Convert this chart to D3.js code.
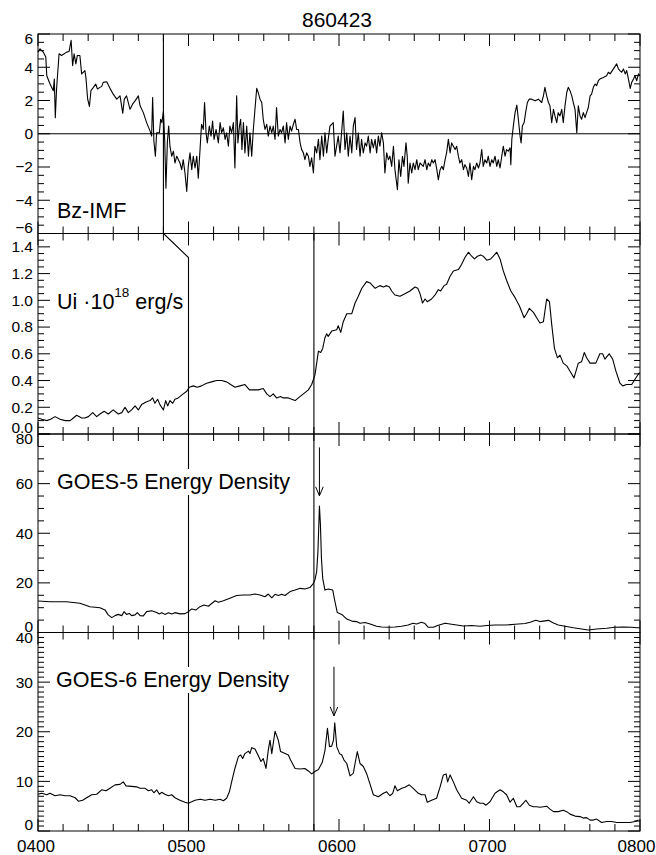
<!DOCTYPE html>
<html><head><meta charset="utf-8">
<script src="https://cdn.jsdelivr.net/npm/d3@7"></script>
<style>
body{margin:0;background:#fff}
svg{display:block}
text{font-family:"Liberation Sans",Arial,Helvetica,sans-serif;fill:#000}
</style>
</head><body>
<svg id="c" width="656" height="855"></svg>
<script>
// ---------------- DATA ----------------
const chartTitle = "860423";
const timeTickLabels = ["0400","0500","0600","0700","0800"];   // minutes after 0400: 0,60,120,180,240
const timeTickMinutes = [0,60,120,180,240];

const bzTicks = [-6,-4,-2,0,2,4,6];
const bzTickLabels = ["\u22126","\u22124","\u22122","0","2","4","6"];
const uiTicks = [0,0.2,0.4,0.6,0.8,1.0,1.2,1.4];
const uiTickLabels = ["0.0","0.2","0.4","0.6","0.8","1.0","1.2","1.4"];
const g5Ticks = [0,20,40,60,80];
const g5TickLabels = ["0","20","40","60","80"];
const g6Ticks = [0,10,20,30,40];
const g6TickLabels = ["0","10","20","30","40"];

// [minutes after 0400, value]
const bzIMF = [[0,4.91],[0.8,5.11],[2.1,4.91],[3.1,4.61],[3.5,3.49],[4.8,2.99],[6.1,2.59],[6.5,3.29],[6.9,0.97],[7.4,2.69],[8.4,4.81],[9.4,4.71],[11.4,4.91],[12.4,4.95],[13.2,5.62],[13.8,4.10],[14.4,4.81],[15.1,4.20],[15.7,4.71],[16.7,4.71],[17.4,3.60],[18.7,3.80],[19.1,3.39],[19.8,2.08],[20.5,1.64],[21.1,2.59],[22.1,2.79],[23.0,2.99],[23.7,2.69],[24.7,2.79],[25.4,2.85],[26.0,3.09],[27.4,3.13],[28.7,2.73],[30.0,2.38],[31.4,2.08],[32.7,2.28],[33.8,1.23],[34.4,2.08],[35.3,2.28],[36.7,1.47],[37.7,1.78],[38.7,1.98],[40.0,2.28],[40.7,1.68],[42.0,1.27],[43.3,0.67],[44.7,0.16],[45.3,-0.14],[45.7,2.18],[46.2,-0.44],[46.8,-1.35],[47.3,0.06],[48.4,0.06],[48.9,0.87],[49.4,0.67],[50.0,1.37],[50.5,-0.34],[51.0,-3.27],[51.6,-0.44],[52.1,0.46],[52.6,-0.75],[53.3,-1.35],[54.0,-1.05],[54.6,-1.76],[55.3,-1.35],[56.6,-1.76],[57.3,-2.16],[57.9,-1.56],[58.6,-2.36],[59.3,-3.47],[59.9,-1.96],[60.6,-1.15],[61.3,-2.16],[61.9,-1.35],[62.6,-2.06],[63.3,-1.35],[63.9,-2.67],[64.6,-0.95],[65.2,0.57],[65.9,0.26],[66.4,1.88],[67.0,0.06],[67.5,-0.55],[68.3,0.46],[69.0,-0.14],[69.6,0.77],[70.2,-0.34],[71.0,0.26],[71.9,-0.55],[72.6,0.67],[73.2,0.06],[73.9,0.36],[74.6,-0.34],[75.2,0.06],[75.9,-0.75],[76.5,0.46],[77.2,0.06],[77.9,0.67],[78.5,-2.06],[79.2,2.28],[79.7,-0.55],[80.3,0.46],[80.8,0.87],[81.3,-0.95],[81.9,0.67],[82.5,-1.15],[83.2,0.46],[83.9,-1.35],[84.5,0.06],[85.2,-1.35],[85.8,0.16],[86.5,1.47],[87.2,2.73],[87.8,2.48],[88.5,2.08],[89.2,1.88],[89.8,0.87],[90.5,0.26],[91.2,0.57],[91.8,-0.14],[92.5,0.46],[93.2,0.06],[93.8,0.46],[94.5,-0.34],[95.1,1.58],[95.8,-0.14],[96.5,0.26],[97.1,0.06],[97.8,0.46],[98.5,-0.55],[99.1,0.67],[99.8,-0.34],[100.5,0.46],[101.1,0.16],[101.8,0.57],[102.5,0.87],[103.1,0.26],[103.8,0.26],[104.5,-0.55],[105.1,-0.95],[105.8,-1.15],[106.4,-1.56],[107.1,-1.15],[107.8,-1.35],[108.4,-1.96],[109.1,-1.45],[109.8,-2.36],[110.4,-0.75],[111.1,-1.15],[111.8,-0.34],[112.4,-1.56],[113.1,-0.14],[113.8,-1.35],[114.4,0.06],[115.1,-1.15],[115.7,-0.34],[116.4,0.46],[117.7,0.67],[118.4,-1.35],[119.7,-0.14],[120.4,-1.15],[121.7,1.37],[122.4,-0.95],[123.1,0.06],[123.7,-1.35],[124.4,-0.14],[125.1,-1.15],[125.7,0.46],[126.4,0.97],[127.0,-0.95],[127.7,0.06],[128.4,-1.35],[129.0,-0.34],[129.7,-1.15],[130.4,-0.55],[131.0,-0.75],[131.7,-0.14],[132.4,-1.15],[133.0,-0.34],[133.7,-0.85],[134.4,-0.34],[135.0,-1.15],[135.7,-0.14],[136.3,-0.75],[137.0,0.06],[137.7,-0.55],[138.3,-2.36],[139.0,-1.15],[139.7,-1.56],[140.3,-1.35],[141.0,-1.96],[141.7,-0.75],[142.3,-2.16],[143.3,-3.37],[143.9,-1.56],[144.6,-2.57],[145.3,-1.35],[145.9,-1.96],[146.7,-0.55],[147.2,-1.35],[147.6,-2.97],[148.3,-1.76],[149.0,-2.36],[149.6,-1.76],[150.3,-2.16],[151.0,-1.56],[151.6,-2.16],[152.3,-1.76],[153.6,-1.96],[154.3,-1.56],[155.0,-2.16],[155.6,-1.76],[156.3,-1.96],[157.0,-1.56],[157.6,-1.76],[158.3,-1.56],[159.0,-2.16],[159.6,-2.77],[160.3,-2.16],[161.0,-1.96],[161.6,-2.16],[162.3,-1.56],[162.9,-1.15],[163.6,-0.34],[164.3,-1.15],[164.9,-0.55],[165.6,-0.75],[166.3,-0.95],[166.9,-0.75],[167.6,-1.35],[168.2,-1.76],[168.9,-1.56],[169.6,-2.16],[170.2,-1.86],[170.9,-2.06],[171.6,-2.57],[172.2,-1.76],[172.9,-2.77],[173.6,-1.96],[174.2,-2.16],[174.9,-1.76],[175.6,-2.06],[176.2,-1.76],[176.9,-0.95],[177.5,-1.96],[178.2,-1.56],[178.9,-1.76],[179.5,-1.35],[180.2,-1.96],[180.9,-1.56],[181.5,-1.76],[182.2,-1.35],[182.9,-1.96],[183.5,-1.56],[184.2,-2.06],[184.9,-1.35],[185.5,-0.75],[186.2,-1.35],[186.8,-0.95],[187.5,-1.05],[188.2,-0.85],[188.5,-1.86],[188.9,-0.34],[189.5,0.46],[190.2,1.27],[190.9,1.72],[191.5,0.87],[192.2,-0.14],[192.6,-0.55],[193.1,0.46],[193.8,0.67],[194.4,1.27],[195.1,1.88],[195.8,2.08],[196.8,2.08],[198.2,1.98],[199.5,2.08],[200.8,1.88],[201.5,2.28],[202.1,2.79],[202.8,2.28],[203.5,1.88],[204.1,1.68],[204.8,0.67],[205.5,1.47],[206.1,1.07],[206.8,0.67],[207.4,1.27],[208.1,1.07],[208.8,1.47],[209.4,0.67],[210.1,1.68],[210.8,2.48],[211.4,2.79],[212.1,2.59],[212.8,2.28],[213.4,1.88],[214.1,1.47],[214.8,0.06],[215.4,1.68],[216.1,1.07],[216.7,0.87],[217.4,1.27],[218.1,0.97],[218.7,1.27],[219.4,1.58],[220.1,2.28],[220.7,2.38],[221.4,2.79],[222.1,2.99],[222.7,2.89],[223.4,3.19],[224.0,3.29],[225.4,3.39],[226.7,3.49],[227.4,3.70],[228.1,3.60],[229.4,3.90],[230.7,4.20],[231.4,3.90],[232.0,3.80],[232.7,3.70],[233.4,3.90],[234.1,3.60],[234.7,3.80],[235.4,3.29],[236.1,2.73],[236.7,3.09],[237.4,3.29],[238.0,3.49],[238.7,3.19],[239.4,3.60],[240,3.49]];

const uiPower = [[0,0.12],[1.5,0.11],[3.5,0.10],[5.0,0.11],[6.8,0.13],[8.8,0.11],[10.8,0.10],[12.8,0.10],[14.1,0.12],[15.4,0.14],[17.4,0.12],[18.7,0.12],[20.1,0.13],[21.8,0.16],[23.4,0.13],[24.7,0.15],[26.4,0.17],[28.0,0.15],[30.0,0.18],[32.0,0.15],[33.4,0.16],[34.7,0.20],[36.0,0.16],[37.3,0.18],[38.7,0.21],[40.0,0.18],[41.3,0.22],[43.1,0.24],[44.7,0.25],[45.7,0.27],[46.6,0.23],[47.7,0.26],[48.6,0.22],[50.0,0.18],[50.9,0.25],[51.7,0.21],[52.6,0.25],[53.7,0.23],[54.6,0.26],[55.9,0.27],[57.9,0.30],[59.3,0.32],[60.3,0.35],[61.9,0.36],[63.5,0.35],[65.2,0.36],[67.2,0.38],[69.2,0.39],[71.2,0.40],[73.2,0.40],[75.2,0.39],[76.8,0.37],[78.5,0.35],[80.5,0.36],[82.5,0.37],[84.3,0.33],[85.8,0.33],[87.8,0.33],[89.8,0.34],[91.2,0.30],[92.5,0.28],[93.8,0.30],[95.1,0.27],[96.7,0.28],[97.8,0.27],[99.8,0.27],[102.5,0.25],[103.8,0.27],[105.8,0.30],[107.8,0.33],[109.1,0.37],[110.4,0.44],[111.1,0.53],[111.8,0.62],[112.7,0.61],[113.5,0.64],[114.4,0.72],[115.1,0.75],[115.7,0.73],[117.1,0.77],[119.1,0.78],[119.7,0.81],[120.7,0.76],[121.7,0.84],[123.1,0.90],[125.1,0.90],[126.4,0.98],[127.7,1.03],[129.1,1.09],[131.0,1.14],[132.4,1.13],[134.4,1.09],[136.3,1.11],[137.7,1.10],[139.0,1.11],[140.1,1.10],[141.0,1.07],[142.3,1.04],[144.3,1.03],[146.3,1.05],[148.3,1.07],[150.3,1.10],[151.4,1.09],[152.3,1.05],[153.3,0.98],[154.3,1.01],[155.2,0.99],[156.9,1.01],[158.3,1.04],[159.6,1.08],[160.5,1.07],[161.9,1.11],[162.9,1.12],[164.3,1.18],[165.6,1.22],[167.6,1.23],[168.9,1.27],[170.2,1.32],[171.6,1.36],[172.9,1.33],[174.0,1.31],[175.2,1.33],[176.5,1.34],[177.5,1.33],[178.9,1.30],[180.5,1.31],[181.5,1.33],[182.9,1.36],[184.2,1.31],[185.5,1.22],[186.8,1.15],[188.5,1.07],[190.2,1.02],[191.9,0.96],[193.8,0.87],[194.8,0.90],[195.9,0.94],[197.5,0.91],[198.8,0.87],[200.1,0.83],[201.5,0.84],[202.1,0.92],[202.8,1.01],[203.9,0.99],[204.8,0.82],[205.9,0.64],[207.1,0.57],[208.1,0.59],[209.4,0.53],[210.8,0.51],[212.1,0.47],[213.7,0.42],[215.4,0.53],[216.7,0.54],[217.8,0.61],[218.7,0.57],[220.1,0.53],[222.4,0.53],[224.0,0.60],[225.1,0.60],[226.0,0.56],[227.7,0.60],[229.1,0.56],[230.4,0.47],[232.0,0.38],[233.1,0.36],[234.7,0.37],[236.7,0.37],[238.0,0.41],[239.8,0.46]];

const goes5Energy = [[0,12.7],[4.8,12.4],[11.4,12.4],[16.7,11.8],[20.7,10.4],[24.7,10.0],[26.7,9.1],[28.0,7.1],[29.4,6.0],[30.7,6.8],[32.0,7.3],[33.4,6.8],[34.3,8.4],[35.3,7.3],[36.4,7.7],[37.3,6.8],[38.7,7.1],[39.6,8.0],[40.7,6.8],[42.0,6.7],[43.3,8.4],[45.3,8.8],[47.3,8.1],[48.4,7.5],[49.3,8.0],[50.6,7.3],[52.0,8.0],[53.3,7.5],[54.6,8.0],[56.6,7.5],[58.6,7.6],[59.9,8.4],[61.3,9.5],[63.0,9.1],[64.6,10.4],[66.2,11.1],[67.9,10.6],[70.6,12.8],[71.9,12.2],[73.9,12.8],[76.5,13.8],[79.2,14.9],[81.9,15.1],[84.5,15.1],[86.5,15.5],[88.5,15.1],[90.5,14.4],[91.8,15.5],[93.2,14.0],[94.5,15.4],[95.8,14.9],[97.1,15.4],[98.5,14.9],[100.5,16.5],[102.5,17.1],[104.5,17.8],[106.4,17.5],[108.4,18.1],[109.8,19.8],[110.4,21.2],[111.1,24.5],[111.6,32.6],[112.2,51.0],[112.6,43.3],[113.0,29.9],[113.5,21.8],[114.4,17.1],[115.7,17.5],[117.5,17.1],[118.4,12.4],[119.3,8.1],[121.1,7.3],[123.1,5.4],[125.1,4.6],[127.0,4.4],[128.4,3.7],[130.4,4.0],[132.4,3.4],[135.0,2.5],[137.0,2.2],[139.7,2.1],[142.3,2.2],[144.9,2.5],[147.6,3.0],[149.5,3.7],[150.9,3.4],[152.9,4.1],[154.3,3.6],[155.6,2.1],[157.6,2.1],[159.6,2.9],[162.3,3.7],[164.9,3.3],[167.6,2.9],[169.6,2.6],[172.9,2.8],[176.2,2.5],[178.9,2.8],[182.2,3.0],[186.2,3.0],[190.2,3.3],[194.2,3.6],[196.2,4.1],[198.5,4.9],[200.1,4.4],[203.5,4.9],[205.5,3.8],[207.4,3.0],[210.1,2.5],[213.4,1.9],[216.7,1.4],[219.4,1.0],[222.7,1.4],[226.7,1.7],[230.0,2.1],[233.4,2.2],[236.7,2.1],[238.7,1.9],[240,1.9]];

const goes6Energy = [[0,7.4],[1.5,7.6],[3.5,7.3],[4.8,7.6],[6.8,7.1],[8.8,7.3],[10.8,7.1],[12.8,7.1],[14.8,6.7],[16.1,6.0],[17.8,6.2],[19.4,6.7],[21.4,7.3],[23.4,7.4],[25.4,8.3],[27.1,8.1],[28.7,8.6],[30.7,9.3],[32.7,9.4],[34.0,9.9],[35.1,9.1],[37.3,9.0],[39.3,8.9],[40.7,8.6],[42.7,8.6],[44.0,8.1],[45.3,8.3],[46.2,7.7],[47.3,8.3],[48.4,7.4],[49.3,7.8],[50.6,7.4],[52.0,7.1],[53.3,7.3],[54.6,6.7],[56.6,6.2],[58.6,5.8],[59.9,5.6],[61.3,5.9],[62.6,6.2],[64.6,6.4],[66.6,6.2],[68.6,6.4],[70.6,6.2],[72.6,6.4],[73.9,6.1],[75.2,6.6],[76.3,7.9],[77.2,9.9],[78.5,12.6],[79.9,15.0],[80.8,15.3],[81.6,14.6],[82.5,15.6],[83.9,16.1],[84.5,15.6],[85.2,16.8],[86.5,16.5],[87.8,15.2],[88.9,14.0],[89.8,14.6],[90.9,12.6],[91.8,16.3],[92.5,18.3],[93.2,15.6],[94.5,20.1],[95.8,18.3],[96.7,16.0],[98.5,15.6],[99.8,15.3],[100.7,14.3],[102.5,12.6],[104.5,12.5],[106.4,12.6],[107.8,12.1],[109.1,11.5],[110.4,12.0],[111.8,12.4],[113.3,13.8],[114.4,16.2],[115.4,20.7],[116.2,17.0],[117.1,17.1],[117.8,18.3],[118.3,21.8],[119.1,17.0],[120.2,15.6],[121.1,15.3],[122.0,14.3],[123.1,13.6],[124.4,11.1],[125.7,11.6],[126.4,13.6],[127.3,16.0],[128.4,13.6],[129.7,13.0],[131.0,11.6],[132.4,9.4],[133.7,7.3],[135.7,6.9],[137.7,7.6],[139.0,7.9],[140.3,7.1],[141.4,7.6],[142.3,9.1],[143.3,8.1],[145.0,8.6],[146.3,8.8],[148.0,9.3],[149.6,8.6],[151.6,7.6],[152.9,7.3],[154.3,7.3],[155.2,5.8],[156.9,6.2],[158.9,6.6],[160.3,8.9],[161.6,11.3],[162.7,11.5],[163.3,9.9],[164.3,11.3],[165.6,9.9],[166.9,8.3],[168.9,6.6],[170.9,6.2],[171.9,5.6],[173.6,6.9],[174.9,5.9],[176.2,5.6],[177.5,5.6],[178.6,5.2],[180.2,5.9],[182.2,7.6],[184.2,8.3],[185.5,7.9],[186.8,7.3],[188.2,5.8],[189.5,6.6],[190.9,4.9],[192.2,4.9],[193.5,5.6],[194.5,6.2],[195.9,5.2],[197.5,4.9],[198.8,4.9],[200.1,4.8],[201.5,4.9],[202.8,5.0],[204.1,4.4],[205.5,3.9],[207.4,3.9],[209.4,4.2],[210.8,3.9],[212.1,3.4],[214.1,3.0],[216.1,2.9],[217.4,2.6],[218.7,2.7],[220.1,2.2],[221.4,2.2],[222.7,2.4],[224.7,1.7],[226.7,1.9],[228.7,1.9],[230.7,1.7],[233.4,1.7],[236.1,1.7],[238.0,1.9],[239.4,2.2]];

// event markers (minutes after 0400)
const bzOnsetMinute = 50;      // 0450 in Bz panel
const shiftedOnsetMinute = 60; // 0500 in lower panels
const kinkUiValue = 1.32;      // where the slanted connector meets the 0500 line
const secondEventMinute = 110; // 0550
// arrows: [minute, from value, to value]
const goes5Arrow = [112.2, 74.6, 55.1];
const goes6Arrow = [118.0, 33.1, 23.2];

// ---------------- LAYOUT ----------------
const svg = d3.select("#c");
const X0 = 38, X1 = 640;
const edges = [34, 233.5, 434, 632.5, 831];
const x = d3.scaleLinear().domain([0,240]).range([X0, X1]);

const panels = [
  {data:bzIMF, domain:[-6,6], ticks:bzTicks, labels:bzTickLabels, minorStep:0.5, zero:true},
  {data:uiPower, domain:[0,1.5], ticks:uiTicks, labels:uiTickLabels, minorStep:0.05},
  {data:goes5Energy, domain:[0,80], ticks:g5Ticks, labels:g5TickLabels, minorStep:5},
  {data:goes6Energy, domain:[0,40], ticks:g6Ticks, labels:g6TickLabels, minorStep:1}
];
panels.forEach((p,i)=>{
  p.top = edges[i]; p.bottom = edges[i+1];
  p.y = d3.scaleLinear().domain(p.domain).range([p.bottom, p.top]);
});

const axisG = svg.append("g").attr("stroke","#000").attr("stroke-width",1).attr("fill","none");
const xMinor = d3.range(0, 241, 10);

panels.forEach((p,i)=>{
  axisG.append("rect").attr("x",X0).attr("y",p.top).attr("width",X1-X0).attr("height",p.bottom-p.top);
  // x ticks top & bottom (inward)
  xMinor.forEach(t=>{
    const len = (t%60===0) ? 12 : 7;
    axisG.append("line").attr("x1",x(t)).attr("x2",x(t)).attr("y1",p.top).attr("y2",p.top+len);
    axisG.append("line").attr("x1",x(t)).attr("x2",x(t)).attr("y1",p.bottom).attr("y2",p.bottom-len);
  });
  // y ticks
  const n = Math.round((p.domain[1]-p.domain[0])/p.minorStep);
  for(let k=0;k<=n;k++){
    const v = p.domain[0]+k*p.minorStep;
    const isMajor = p.ticks.some(tv=>Math.abs(tv-v)<1e-6);
    const len = isMajor ? 12 : 6;
    const yy = p.y(v);
    axisG.append("line").attr("x1",X0).attr("x2",X0+len).attr("y1",yy).attr("y2",yy);
    axisG.append("line").attr("x1",X1).attr("x2",X1-len).attr("y1",yy).attr("y2",yy);
  }
  // y tick labels
  p.ticks.forEach((v,j)=>{
    let off = 0;
    if (v===p.domain[1]) off = 5;
    if (v===p.domain[0]) off = -6;
    svg.append("text").attr("x",33).attr("y",p.y(v)+off).attr("dy","0.35em")
      .attr("text-anchor","end").attr("font-size",15.5).text(p.labels[j]);
  });
  if (p.zero){
    axisG.append("line").attr("x1",X0).attr("x2",X1).attr("y1",p.y(0)).attr("y2",p.y(0));
  }
});

// x tick labels
timeTickMinutes.forEach((t,j)=>{
  svg.append("text").attr("x",Math.min(x(t)-2, 636.5)).attr("y",851.5).attr("text-anchor","middle")
    .attr("font-size",17).text(timeTickLabels[j]);
});

// title
svg.append("text").attr("x",337).attr("y",26.5).attr("text-anchor","middle")
  .attr("font-size",21).text(chartTitle);

// event lines
const evG = svg.append("g").attr("stroke","#000").attr("stroke-width",1.1).attr("fill","none");
evG.append("path").attr("d", d3.line()([
  [x(bzOnsetMinute), panels[0].top],
  [x(bzOnsetMinute), panels[0].bottom],
  [x(shiftedOnsetMinute), panels[1].y(kinkUiValue)],
  [x(shiftedOnsetMinute), panels[3].bottom]
]));
evG.append("line").attr("x1",x(secondEventMinute)).attr("x2",x(secondEventMinute))
  .attr("y1",panels[1].top).attr("y2",panels[3].bottom);

// data lines
const lineG = svg.append("g").attr("stroke","#000").attr("stroke-width",1.1).attr("fill","none").attr("stroke-linejoin","round");
panels.forEach(p=>{
  lineG.append("path").attr("d", d3.line().x(d=>x(d[0])).y(d=>p.y(d[1]))(p.data));
});

// panel labels with white background
function boxedLabel(xp, yp, build){
  const g = svg.append("g");
  const t = g.append("text").attr("x",xp).attr("y",yp).attr("font-size",21.5);
  build(t);
  const bb = t.node().getBBox();
  g.insert("rect","text").attr("x",bb.x-2).attr("y",bb.y-1).attr("width",bb.width+4).attr("height",bb.height+2).attr("fill","#fff");
}
boxedLabel(57, 218, t=>t.text("Bz-IMF"));
boxedLabel(57, 308.5, t=>{
  t.append("tspan").text("Ui \u00b710");
  t.append("tspan").attr("font-size",13.5).attr("dy",-11.5).text("18");
  t.append("tspan").attr("dy",11.5).text(" erg/s");
});
boxedLabel(57, 489, t=>t.text("GOES-5 Energy Density"));
boxedLabel(56, 687, t=>t.text("GOES-6 Energy Density"));

// arrows
const arG = svg.append("g").attr("stroke","#000").attr("stroke-width",1).attr("fill","none");
[[goes5Arrow, panels[2]],[goes6Arrow, panels[3]]].forEach(([a,p])=>{
  const xa = x(a[0]), y1 = p.y(a[1]), y2 = p.y(a[2]);
  arG.append("line").attr("x1",xa).attr("x2",xa).attr("y1",y1).attr("y2",y2);
  arG.append("path").attr("d", d3.line()([[xa-3.8,y2-9],[xa,y2],[xa+3.8,y2-9]]));
});
</script>
</body></html>
